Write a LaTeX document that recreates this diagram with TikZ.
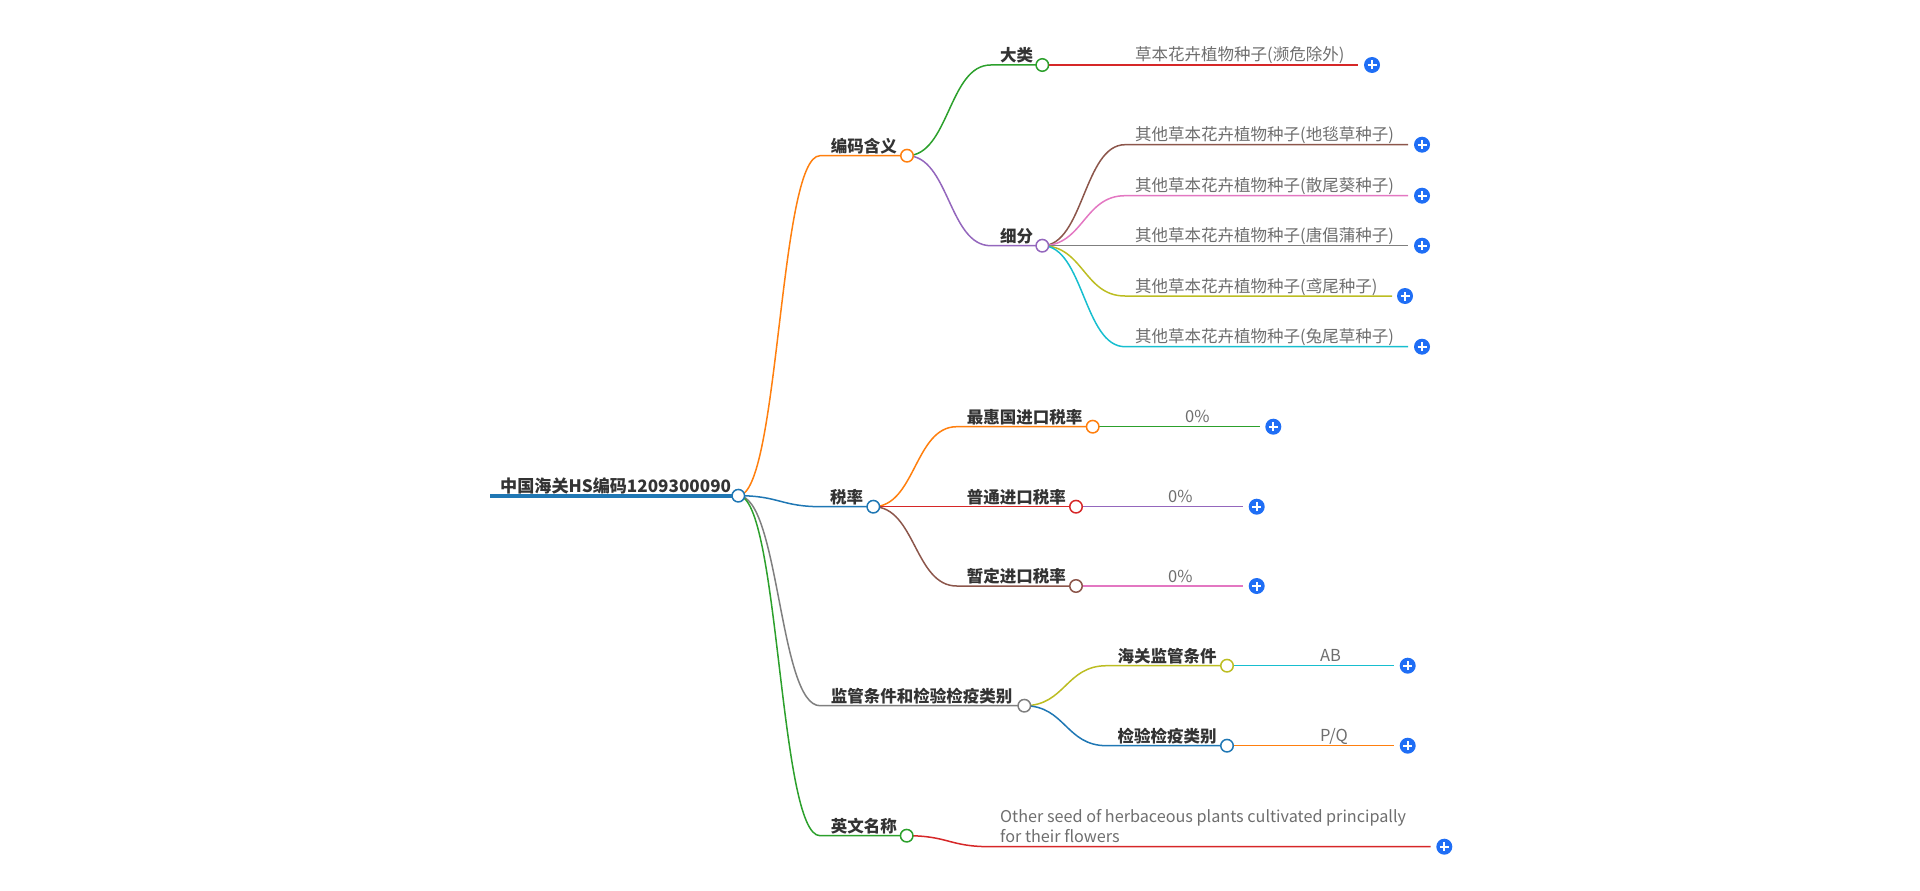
\documentclass[tikz,border=0pt]{standalone}
\usepackage{fontspec}
\setmainfont{Noto Sans CJK SC}
\pgfdeclarelayer{bg}
\pgfsetlayers{bg,main}
\definecolor{cblue}{HTML}{1F77B4}
\definecolor{corange}{HTML}{FF7F0E}
\definecolor{cgreen}{HTML}{2CA02C}
\definecolor{cred}{HTML}{D62728}
\definecolor{cpurple}{HTML}{9467BD}
\definecolor{cbrown}{HTML}{8C564B}
\definecolor{cpink}{HTML}{E377C2}
\definecolor{cgray}{HTML}{7F7F7F}
\definecolor{colive}{HTML}{BCBD22}
\definecolor{ccyan}{HTML}{17BECF}
\definecolor{labc}{HTML}{333333}
\definecolor{leafc}{HTML}{6E6E6E}
\definecolor{plusc}{HTML}{1F6EF5}
\tikzset{
  lbl/.style={anchor=base west, inner sep=0pt, yshift=-1.5pt, font=\fontsize{16.5}{20}\selectfont\bfseries, text=labc},
  leaf/.style={anchor=base west, inner sep=0pt, yshift=-1pt, font=\fontsize{16.5}{20}\selectfont, text=leafc},
  dot/.style={circle, draw=#1, fill=white, line width=1.5pt, minimum size=12.5pt, inner sep=0pt},
  plusbtn/.style={circle, fill=plusc, minimum size=16pt, inner sep=0pt,
    path picture={\draw[white, line width=1.7pt]
      ([xshift=-4.5pt]path picture bounding box.center) -- ([xshift=4.5pt]path picture bounding box.center)
      ([yshift=-4.5pt]path picture bounding box.center) -- ([yshift=4.5pt]path picture bounding box.center);}},
  wire/.style={line width=1.5pt, draw=#1},
}
\begin{document}
\begin{tikzpicture}[x=1pt, y=-1pt]
\useasboundingbox (0,0) rectangle (1920,891);
% ---------- circles (nodes) ----------
\node[dot=cblue] (r) at (738.3,495.7) {};
\coordinate (r0) at (490,495.7);
\node[lbl, font=\fontsize{17.1}{20}\selectfont\bfseries] (rt) at (500,491.2) {中国海关HS编码1209300090};

\coordinate (sa) at (820,155.7);
\node[dot=corange] (a) at (907,155.7) {};
\node[lbl] (at) at (830.7,150.7) {编码含义};
\coordinate (sb) at (821.7,506.7);
\node[dot=cblue] (b) at (873.3,506.7) {};
\node[lbl] (bt) at (830,501.7) {税率};
\coordinate (sc) at (820,705.7);
\node[dot=cgray] (c) at (1024.3,705.7) {};
\node[lbl] (ct) at (830.7,700.7) {监管条件和检验检疫类别};
\coordinate (sd) at (820,835.7);
\node[dot=cgreen] (d) at (906.7,835.7) {};
\node[lbl] (dt) at (830.7,830.7) {英文名称};

% 编码含义 children
\coordinate (sa1) at (990.7,65);
\node[dot=cgreen] (a1) at (1042.3,65) {};
\node[lbl] (a1t) at (1000,60) {大类};
\coordinate (sa2) at (990.7,245.7);
\node[dot=cpurple] (a2) at (1042.3,245.7) {};
\node[lbl] (a2t) at (1000,240.7) {细分};

\coordinate (la1s) at (1125,65);
\coordinate (la1e) at (1358,65);
\node[leaf] (la1t) at (1135,60) {草本花卉植物种子(濒危除外)};
\node[plusbtn] (pa1) at (1372,65) {};

\coordinate (l1s) at (1125,144.7);
\coordinate (l1e) at (1408,144.7);
\node[leaf] (l1t) at (1135,139.7) {其他草本花卉植物种子(地毯草种子)};
\node[plusbtn] (p1) at (1422,144.7) {};
\coordinate (l2s) at (1125,195.7);
\coordinate (l2e) at (1408,195.7);
\node[leaf] (l2t) at (1135,190.7) {其他草本花卉植物种子(散尾葵种子)};
\node[plusbtn] (p2) at (1422,195.7) {};
\coordinate (l3s) at (1125,245.7);
\coordinate (l3e) at (1408,245.7);
\node[leaf] (l3t) at (1135,240.7) {其他草本花卉植物种子(唐倡蒲种子)};
\node[plusbtn] (p3) at (1422,245.7) {};
\coordinate (l4s) at (1125,296);
\coordinate (l4e) at (1392,296);
\node[leaf] (l4t) at (1135,291) {其他草本花卉植物种子(鸢尾种子)};
\node[plusbtn] (p4) at (1405,296) {};
\coordinate (l5s) at (1125,346.7);
\coordinate (l5e) at (1408,346.7);
\node[leaf] (l5t) at (1135,341.7) {其他草本花卉植物种子(兔尾草种子)};
\node[plusbtn] (p5) at (1422,346.7) {};

% 税率 children
\coordinate (sb1) at (956.7,426.7);
\node[dot=corange] (b1) at (1092.7,426.7) {};
\node[lbl] (b1t) at (966.7,421.7) {最惠国进口税率};
\coordinate (sb2) at (956.7,506.7);
\node[dot=cred] (b2) at (1076,506.7) {};
\node[lbl] (b2t) at (966.7,501.7) {普通进口税率};
\coordinate (sb3) at (956.7,586);
\node[dot=cbrown] (b3) at (1076,586) {};
\node[lbl] (b3t) at (966.7,581) {暂定进口税率};

\coordinate (lb1s) at (1176,426.7);
\coordinate (lb1e) at (1260,426.7);
\node[leaf] (lb1t) at (1185,421.7) {0\%};
\node[plusbtn] (pb1) at (1273.3,426.7) {};
\coordinate (lb2s) at (1159,506.7);
\coordinate (lb2e) at (1242.7,506.7);
\node[leaf] (lb2t) at (1168,501.7) {0\%};
\node[plusbtn] (pb2) at (1256.7,506.7) {};
\coordinate (lb3s) at (1159,586);
\coordinate (lb3e) at (1242.7,586);
\node[leaf] (lb3t) at (1168,581) {0\%};
\node[plusbtn] (pb3) at (1256.7,586) {};

% 监管 children
\coordinate (sc1) at (1106.7,665.7);
\node[dot=colive] (c1) at (1227,665.7) {};
\node[lbl] (c1t) at (1117.3,660.7) {海关监管条件};
\coordinate (sc2) at (1106.7,745.7);
\node[dot=cblue] (c2) at (1227,745.7) {};
\node[lbl] (c2t) at (1117.3,740.7) {检验检疫类别};

\coordinate (lc1s) at (1310,665.7);
\coordinate (lc1e) at (1394,665.7);
\node[leaf] (lc1t) at (1320,660.7) {AB};
\node[plusbtn] (pc1) at (1407.7,665.7) {};
\coordinate (lc2s) at (1310,745.7);
\coordinate (lc2e) at (1394,745.7);
\node[leaf] (lc2t) at (1320,740.7) {P/Q};
\node[plusbtn] (pc2) at (1407.7,745.7) {};

% 英文名称 leaf
\coordinate (lds) at (990.7,846.7);
\coordinate (lde) at (1430.7,846.7);
\node[leaf, align=left, font=\fontsize{16.2}{20}\selectfont] (ldt) at (1000,841.7) {Other seed of herbaceous plants cultivated principally\\for their flowers};
\node[plusbtn] (pd) at (1444.3,846.7) {};

% ---------- connectors ----------
\begin{pgfonlayer}{bg}
\draw[wire=cblue, line width=4pt] (r0) -- (r.center);
\draw[wire=corange] (r.center) .. controls +(41,0) and +(-41,0) .. (sa) -- (a.center);
\draw[wire=cblue] (r.center) .. controls +(41,0) and +(-41,0) .. (sb) -- (b.center);
\draw[wire=cgray] (r.center) .. controls +(41,0) and +(-41,0) .. (sc) -- (c.center);
\draw[wire=cgreen] (r.center) .. controls +(41,0) and +(-41,0) .. (sd) -- (d.center);

\draw[wire=cgreen] (a.center) .. controls +(42,0) and +(-42,0) .. (sa1) -- (a1.center);
\draw[wire=cpurple] (a.center) .. controls +(42,0) and +(-42,0) .. (sa2) -- (a2.center);
\draw[wire=cred] (a1.center) -- (la1s) -- (la1e);
\draw[wire=cbrown] (a2.center) .. controls +(41,0) and +(-41,0) .. (l1s) -- (l1e);
\draw[wire=cpink] (a2.center) .. controls +(41,0) and +(-41,0) .. (l2s) -- (l2e);
\draw[wire=cgray] (a2.center) -- (l3s) -- (l3e);
\draw[wire=colive] (a2.center) .. controls +(41,0) and +(-41,0) .. (l4s) -- (l4e);
\draw[wire=ccyan] (a2.center) .. controls +(41,0) and +(-41,0) .. (l5s) -- (l5e);

\draw[wire=corange] (b.center) .. controls +(42,0) and +(-42,0) .. (sb1) -- (b1.center);
\draw[wire=cred] (b.center) -- (sb2) -- (b2.center);
\draw[wire=cbrown] (b.center) .. controls +(42,0) and +(-42,0) .. (sb3) -- (b3.center);
\draw[wire=cgreen] (b1.center) -- (lb1s) -- (lb1e);
\draw[wire=cpurple] (b2.center) -- (lb2s) -- (lb2e);
\draw[wire=cpink] (b3.center) -- (lb3s) -- (lb3e);

\draw[wire=colive] (c.center) .. controls +(41,0) and +(-41,0) .. (sc1) -- (c1.center);
\draw[wire=cblue] (c.center) .. controls +(41,0) and +(-41,0) .. (sc2) -- (c2.center);
\draw[wire=ccyan] (c1.center) -- (lc1s) -- (lc1e);
\draw[wire=corange] (c2.center) -- (lc2s) -- (lc2e);

\draw[wire=cred] (d.center) .. controls +(42,0) and +(-42,0) .. (lds) -- (lde);
\end{pgfonlayer}
\end{tikzpicture}
\end{document}
